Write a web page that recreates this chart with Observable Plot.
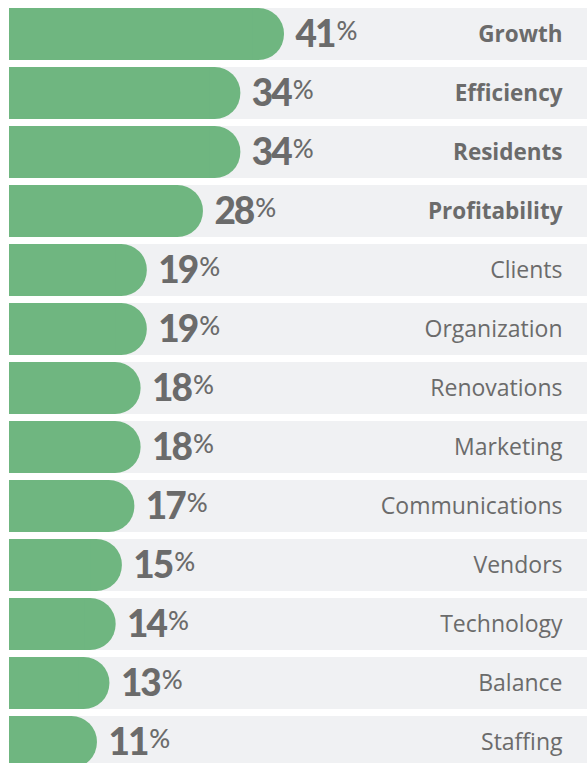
<!DOCTYPE html>
<html><head><meta charset="utf-8">
<script src="https://cdn.jsdelivr.net/npm/d3@7"></script>
<script src="https://cdn.jsdelivr.net/npm/@observablehq/plot@0.6"></script>
<style>
body{margin:0;background:#fff;}
#chart svg{display:block;overflow:visible;}
</style></head><body><div id="chart"></div>
<script>
const categories = ["Growth","Efficiency","Residents","Profitability","Clients","Organization","Renovations","Marketing","Communications","Vendors","Technology","Balance","Staffing"];
const values = [41,34,34,28,19,19,18,18,17,15,14,13,11];
const boldCategories = ["Growth","Efficiency","Residents","Profitability"];
const data = categories.map((c,i)=>({category:c, value:values[i], bold: boldCategories.includes(c)}));
const xMin = -3.1, xMax = 89.6;
const green = "#6fb680", grey = "#f0f1f3", ink = "#6b6b6b";
const labelFont = "'Open Sans', sans-serif";
const plot = Plot.plot({
  width:587, height:763, marginLeft:9, marginRight:0, marginTop:0, marginBottom:0,
  x:{domain:[xMin,xMax], axis:null},
  y:{domain:categories, range:[8,768], paddingInner:7/59, paddingOuter:0, axis:null},
  style:{fontFamily:"Lato, sans-serif", background:"transparent"},
  marks:[
    Plot.barX(data,{x1:xMin,x2:xMax,y:"category",fill:grey}),
    Plot.barX(data,{x1:xMin,x2:"value",y:"category",fill:green,rx:25.5}),
    Plot.barX(data,{x1:xMin,x2:d=>d.value-5,y:"category",fill:green}),
    Plot.text(data,{x:"value",y:"category",text:d=>String(d.value),dx:11,dy:1,textAnchor:"start",fontSize:37,fontWeight:900,fill:ink,ariaDescription:"pct"}),
    Plot.text(data,{filter:d=>d.bold,frameAnchor:"right",y:"category",text:"category",dx:-25,textAnchor:"end",fontSize:22.5,fontWeight:700,fill:ink,fontFamily:labelFont}),
    Plot.text(data,{filter:d=>!d.bold,frameAnchor:"right",y:"category",text:"category",dx:-25,textAnchor:"end",fontSize:23,fontWeight:400,fill:ink,fontFamily:labelFont})
  ]
});
d3.select(plot).selectAll('g[aria-description="pct"] text').each(function(){
  const t = d3.select(this);
  const num = t.text();
  t.text(null).style("letter-spacing","-2px");
  t.append("tspan").text(num);
  t.append("tspan").text("%").attr("font-size",26).attr("font-weight",500).attr("dx",2).attr("dy",-7).style("letter-spacing","0");
});
document.getElementById("chart").append(plot);
</script></body></html>
